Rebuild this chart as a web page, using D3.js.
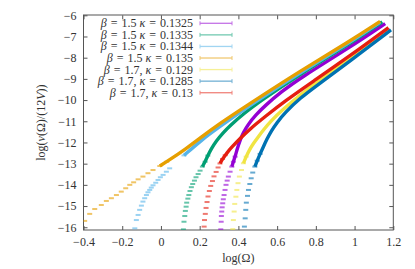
<!DOCTYPE html>
<html>
<head>
<meta charset="utf-8">
<script src="https://cdn.jsdelivr.net/npm/d3@7"></script>
<style>
  body { margin: 0; background: #fff; }
  text { font-family: "Liberation Serif", "DejaVu Serif", serif; fill: #333; }
</style>
</head>
<body>
<svg id="chart" width="415" height="269"></svg>
<script>
// tick values and labels
const xTicks = [-0.4, -0.2, 0, 0.2, 0.4, 0.6, 0.8, 1, 1.2];
const xTickLabels = ["\u22120.4", "\u22120.2", "0", "0.2", "0.4", "0.6", "0.8", "1", "1.2"];
const yTicks = [-16, -15, -14, -13, -12, -11, -10, -9, -8, -7, -6];
const yTickLabels = ["\u221216", "\u221215", "\u221214", "\u221213", "\u221212", "\u221211", "\u221210", "\u22129", "\u22128", "\u22127", "\u22126"];

const labels = [
  "β = 1.5 κ = 0.1325",
  "β = 1.5 κ = 0.1335",
  "β = 1.5 κ = 0.1344",
  "β = 1.5 κ = 0.135",
  "β = 1.7, κ = 0.129",
  "β = 1.7, κ = 0.1285",
  "β = 1.7, κ = 0.13"
];
const colors = ["#9400d3", "#009e73", "#56b4e9", "#e69f00", "#f0e442", "#0072b2", "#e51e10"];

// [log(Omega), log(nu/(12V))]
const b15k1325 = [[0.309,-16.10],[0.311,-15.74],[0.312,-15.47],[0.314,-15.26],[0.316,-15.06],[0.319,-14.87],
  [0.322,-14.68],[0.326,-14.48],[0.331,-14.24],[0.336,-14.00],[0.342,-13.80],[0.348,-13.61],[0.357,-13.38],
  [0.366,-13.14],[0.374,-12.91],[0.383,-12.67],[0.395,-12.27],[0.409,-11.88],[0.426,-11.52],[0.450,-11.15],
  [0.490,-10.70],[0.538,-10.26],[0.620,-9.62],[0.719,-8.96],[0.977,-7.50],[1.158,-6.39]];
const b15k1335 = [[0.116,-16.10],[0.119,-15.74],[0.123,-15.47],[0.126,-15.23],[0.130,-15.03],[0.133,-14.84],
  [0.139,-14.65],[0.144,-14.48],[0.150,-14.29],[0.157,-14.11],[0.164,-13.96],[0.173,-13.80],[0.181,-13.64],
  [0.192,-13.49],[0.202,-13.33],[0.214,-13.14],[0.228,-12.91],[0.242,-12.62],[0.260,-12.30],[0.285,-11.93],
  [0.320,-11.55],[0.357,-11.20],[0.430,-10.62],[0.512,-10.05],[0.719,-8.77],[0.977,-7.33],[1.143,-6.31]];
const b15k1344 = [[-0.135,-16.05],[-0.127,-15.66],[-0.118,-15.42],[-0.110,-15.18],[-0.101,-14.98],[-0.093,-14.79],
  [-0.084,-14.63],[-0.075,-14.48],[-0.067,-14.35],[-0.058,-14.24],[-0.050,-14.13],[-0.041,-14.02],[-0.027,-13.90],
  [-0.015,-13.77],[-0.003,-13.64],[0.011,-13.53],[0.028,-13.38],[0.045,-13.22],[0.119,-12.61],[0.211,-11.88],
  [0.280,-11.41],[0.460,-10.24],[0.719,-8.70],[0.977,-7.28],[1.132,-6.33]];
const b15k135 = [[-0.394,-15.70],[-0.368,-15.37],[-0.342,-15.14],[-0.308,-14.95],[-0.282,-14.76],[-0.256,-14.63],
  [-0.230,-14.48],[-0.205,-14.32],[-0.182,-14.16],[-0.161,-14.00],[-0.141,-13.88],[-0.118,-13.74],[-0.093,-13.61],
  [-0.067,-13.45],[-0.041,-13.30],[-0.006,-13.11],[0.030,-12.91],[0.133,-12.27],[0.202,-11.80],[0.280,-11.25],
  [0.460,-10.16],[0.719,-8.63],[0.977,-7.21],[1.132,-6.29]];
const b17k129 = [[0.371,-16.09],[0.374,-15.66],[0.378,-15.26],[0.381,-14.90],[0.387,-14.56],[0.392,-14.24],
  [0.398,-13.92],[0.405,-13.61],[0.416,-13.30],[0.426,-12.98],[0.440,-12.67],[0.457,-12.35],[0.478,-12.04],
  [0.503,-11.73],[0.529,-11.41],[0.570,-10.97],[0.626,-10.47],[0.719,-9.76],[0.796,-9.21],[0.977,-8.05],[1.184,-6.67]];
const b17k1285 = [[0.431,-15.97],[0.435,-15.58],[0.438,-15.18],[0.441,-14.84],[0.447,-14.52],[0.452,-14.24],
  [0.459,-13.96],[0.466,-13.69],[0.474,-13.42],[0.485,-13.14],[0.497,-12.86],[0.512,-12.54],[0.529,-12.20],
  [0.547,-11.85],[0.570,-11.45],[0.600,-11.05],[0.640,-10.60],[0.719,-9.90],[0.807,-9.30],[0.977,-8.15],[1.188,-6.69]];
const b17k13 = [[0.223,-15.97],[0.225,-15.66],[0.229,-15.37],[0.233,-15.09],[0.238,-14.81],[0.243,-14.55],
  [0.250,-14.29],[0.257,-14.05],[0.266,-13.82],[0.274,-13.60],[0.285,-13.39],[0.295,-13.18],[0.305,-12.99],
  [0.318,-12.78],[0.332,-12.60],[0.348,-12.41],[0.367,-12.21],[0.409,-11.81],[0.460,-11.36],[0.538,-10.78],
  [0.641,-10.04],[0.781,-9.15],[0.977,-7.91],[1.175,-6.58]];

const seriesData = [b15k1325, b15k1335, b15k1344, b15k135, b17k129, b17k1285, b17k13];

const svg = d3.select("#chart");
const plotLeft = 83.5, plotRight = 393.3, plotTop = 15.3, plotBottom = 230;

const x = d3.scaleLinear().domain([-0.4, 1.2]).range([plotLeft, plotRight]);
const y = d3.scaleLinear().domain([-16.13, -6]).range([plotBottom, plotTop]);

svg.append("clipPath").attr("id", "plot")
  .append("rect").attr("x", plotLeft).attr("y", plotTop - 1)
  .attr("width", plotRight - plotLeft).attr("height", plotBottom - plotTop + 1);

// axes, ticks pointing inward, mirrored on top and right
const axisColor = "#555";
svg.append("g").attr("transform", `translate(0,${plotBottom})`)
  .call(d3.axisBottom(x).tickValues(xTicks).tickSize(-4).tickPadding(7)
    .tickFormat((d, i) => xTickLabels[i]));
svg.append("g").attr("transform", `translate(${plotLeft},0)`)
  .call(d3.axisLeft(y).tickValues(yTicks).tickSize(-4).tickPadding(7)
    .tickFormat((d, i) => yTickLabels[i]));
svg.append("g").attr("transform", `translate(0,${plotTop})`)
  .call(d3.axisTop(x).tickValues(xTicks).tickSize(-4).tickFormat(""));
svg.append("g").attr("transform", `translate(${plotRight},0)`)
  .call(d3.axisRight(y).tickValues(yTicks).tickSize(-4).tickFormat(""));

svg.selectAll(".domain").remove();
svg.selectAll(".tick line").attr("stroke", axisColor);
svg.selectAll(".tick text").attr("font-size", "12px")
  .style("font-family", '"Liberation Serif", serif').attr("fill", "#333");

svg.append("rect")
  .attr("x", plotLeft).attr("y", plotTop - 0.3)
  .attr("width", plotRight - plotLeft).attr("height", plotBottom - plotTop + 0.3)
  .attr("fill", "none").attr("stroke", axisColor).attr("stroke-width", 1);

// data: thick line where points are dense, short dashes where they spread out
const line = d3.line()
  .x(d => x(d[0])).y(d => y(d[1]))
  .curve(d3.curveBasis);

const plot = svg.append("g").attr("clip-path", "url(#plot)");

seriesData.forEach((pts, i) => {
  const g = plot.append("g");
  g.selectAll("rect")
    .data(pts.filter(d => d[1] < -12.5))
    .enter().append("rect")
    .attr("x", d => x(d[0]) - 2.5)
    .attr("y", d => y(d[1]) - 1)
    .attr("width", 5)
    .attr("height", 2)
    .attr("fill", colors[i])
    .attr("opacity", 0.6);

  g.append("path")
    .datum(pts.filter(d => d[1] >= -13.15))
    .attr("d", line)
    .attr("fill", "none")
    .attr("stroke", colors[i])
    .attr("stroke-width", 3.4);
});

// text helper: Greek letters and V in italic
function richText(sel, str) {
  str.split(/([βκνV])/).filter(s => s.length).forEach(part => {
    const t = sel.append("tspan").text(part);
    if (/[βκνV]/.test(part)) t.attr("font-style", "italic");
  });
}

// legend
const legend = svg.append("g").attr("class", "legend");
labels.forEach((lab, i) => {
  const ly = 23.3 + i * 11.57;
  const txt = legend.append("text")
    .attr("x", 193).attr("y", ly + 4)
    .attr("text-anchor", "end")
    .attr("font-size", "12px");
  richText(txt, lab.replace(/ = /g, "\u2004=\u2004"));

  const item = legend.append("g").attr("stroke", colors[i]).attr("opacity", 0.55);
  item.append("line").attr("x1", 200).attr("x2", 232).attr("y1", ly).attr("y2", ly).attr("stroke-width", 1.3);
  item.append("line").attr("x1", 200).attr("x2", 200).attr("y1", ly - 2).attr("y2", ly + 2);
  item.append("line").attr("x1", 232).attr("x2", 232).attr("y1", ly - 2).attr("y2", ly + 2);
});

// axis titles
const xt = svg.append("text")
  .attr("x", (plotLeft + plotRight) / 2).attr("y", 262)
  .attr("text-anchor", "middle").attr("font-size", "12px");
richText(xt, "log(Ω)");

const yt = svg.append("text")
  .attr("transform", `translate(45,${(plotTop + plotBottom) / 2}) rotate(-90)`)
  .attr("text-anchor", "middle").attr("font-size", "12px");
richText(yt, "log(ν(Ω)/(12V))");
</script>
</body>
</html>
